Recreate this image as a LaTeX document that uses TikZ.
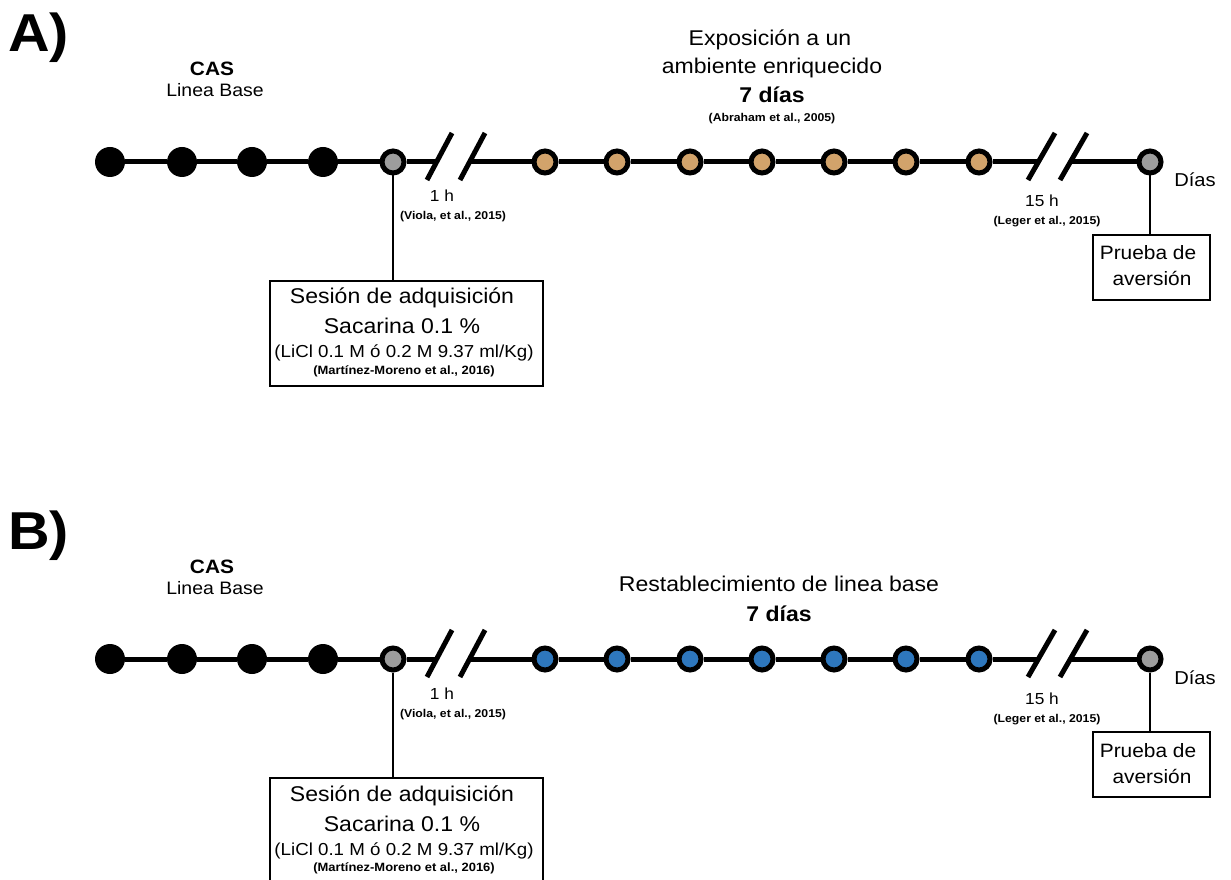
\documentclass[tikz,border=0pt]{standalone}
\usepackage{fontspec}
\setmainfont{Liberation Sans}[FakeStretch=1.08]
\definecolor{tancol}{HTML}{D2A36B}
\definecolor{bluecol}{HTML}{2E77BD}
\definecolor{graycol}{HTML}{9D9D9D}
\newcommand\fs[1]{\fontsize{#1}{#1}\selectfont}
\tikzset{
  bigdot/.style={circle,fill=black,minimum size=22.5pt,inner sep=0pt,outer sep=0pt},
  ringdot/.style={circle,draw=black,line width=3.75pt,fill=#1,minimum size=16.5pt,inner sep=0pt},
  tline/.style={line width=3.75pt},
  brk/.style={line width=3.75pt},
  conn/.style={line width=1.5pt},
  boxnode/.style={draw,line width=1.8pt,rectangle,inner sep=0pt},
  txt/.style={inner sep=0pt,anchor=base},
}
\newcommand\mkpanel[4]{%
\begin{scope}[shift={(0,#2)}]
  \node[txt,anchor=base west,font=\bfseries\fs{40}] (#1lab) at (8,52) {#4};
  \node[txt,font=\bfseries\fs{14.5}] (#1cas) at (212,76) {CAS};
  \node[txt,font=\fs{13.5}] (#1lb) at (215,97) {Linea Base};
  \foreach \i/\x in {1/110,2/182,3/252,4/323} \node[bigdot] (#1d\i) at (\x,162) {};
  \node[ringdot=graycol] (#1g1) at (393,162) {};
  \foreach \i/\x in {1/545,2/617,3/690,4/762,5/834,6/906,7/979} \node[ringdot=#3] (#1t\i) at (\x,162) {};
  \node[ringdot=graycol] (#1g2) at (1150,162) {};
  \coordinate (#1k1) at (437,162);
  \coordinate (#1k2) at (471,162);
  \coordinate (#1k3) at (1039,162);
  \coordinate (#1k4) at (1071,162);
  \coordinate (#1s1a) at (427,180); \coordinate (#1s1b) at (452,133);
  \coordinate (#1s2a) at (460,180); \coordinate (#1s2b) at (485,133);
  \coordinate (#1s3a) at (1028,180); \coordinate (#1s3b) at (1055,133);
  \coordinate (#1s4a) at (1060,180); \coordinate (#1s4b) at (1087,133);
  \draw[tline] (#1d1) -- (#1d2) -- (#1d3) -- (#1d4) -- (#1g1) -- (#1k1);
  \draw[tline] (#1k2) -- (#1t1) -- (#1t2) -- (#1t3) -- (#1t4) -- (#1t5) -- (#1t6) -- (#1t7) -- (#1k3);
  \draw[tline] (#1k4) -- (#1g2);
  \draw[brk] (#1s1a) -- (#1s1b);
  \draw[brk] (#1s2a) -- (#1s2b);
  \draw[brk] (#1s3a) -- (#1s3b);
  \draw[brk] (#1s4a) -- (#1s4b);
  \node[txt,font=\fs{12}] (#1h1) at (442,202) {1 h};
  \node[txt,font=\bfseries\fs{8.5}] (#1c1) at (453,220) {(Viola, et al., 2015)};
  \node[txt,font=\fs{12}] (#1h2) at (1042,207) {15 h};
  \node[txt,font=\bfseries\fs{8.5}] (#1c2) at (1047,225) {(Leger et al., 2015)};
  \node[txt,anchor=base west,font=\fs{14}] (#1dias) at (1174,187) {Días};
  \node[boxnode,minimum width=204.75pt,minimum height=78.75pt,anchor=north west] (#1sess) at (269,280) {};
  \node[txt,font=\fs{16}] (#1sa) at (402,304) {Sesión de adquisición};
  \node[txt,font=\fs{16}] (#1sb) at (402,334) {Sacarina 0.1 \%};
  \node[txt,font=\fs{13}] (#1sc) at (404,358) {(LiCl 0.1 M ó 0.2 M 9.37 ml/Kg)};
  \node[txt,font=\bfseries\fs{9}] (#1sd) at (404,374) {(Martínez-Moreno et al., 2016)};
  \draw[conn] (#1g1) -- (#1g1 |- #1sess.north);
  \node[boxnode,minimum width=87.75pt,minimum height=48.75pt,anchor=north west] (#1pr) at (1092,234) {};
  \node[txt,font=\fs{14.5}] (#1pa) at (1148,260) {Prueba de};
  \node[txt,font=\fs{14.5}] (#1pb) at (1152,286) {aversión};
  \draw[conn] (#1g2) -- (#1g2 |- #1pr.north);
\end{scope}}
\begin{document}
\begin{tikzpicture}[x=0.75pt,y=-0.75pt]
  \useasboundingbox (0,0) rectangle (1231,880);
  \fill[white] (0,0) rectangle (1231,880);
  \mkpanel{A}{0}{tancol}{A)}
  \mkpanel{B}{497}{bluecol}{B)}
  \node[txt,font=\fs{16}] (Ah1) at (770,46) {Exposición a un};
  \node[txt,font=\fs{16}] (Ah2) at (772,74) {ambiente enriquecido};
  \node[txt,font=\bfseries\fs{16}] (Ah3) at (772,103) {7 días};
  \node[txt,font=\bfseries\fs{8.5}] (Ah4) at (772,122) {(Abraham et al., 2005)};
  \node[txt,font=\fs{16}] (Bh1) at (779,591) {Restablecimiento de linea base};
  \node[txt,font=\bfseries\fs{16}] (Bh2) at (779,621) {7 días};
\end{tikzpicture}
\end{document}
